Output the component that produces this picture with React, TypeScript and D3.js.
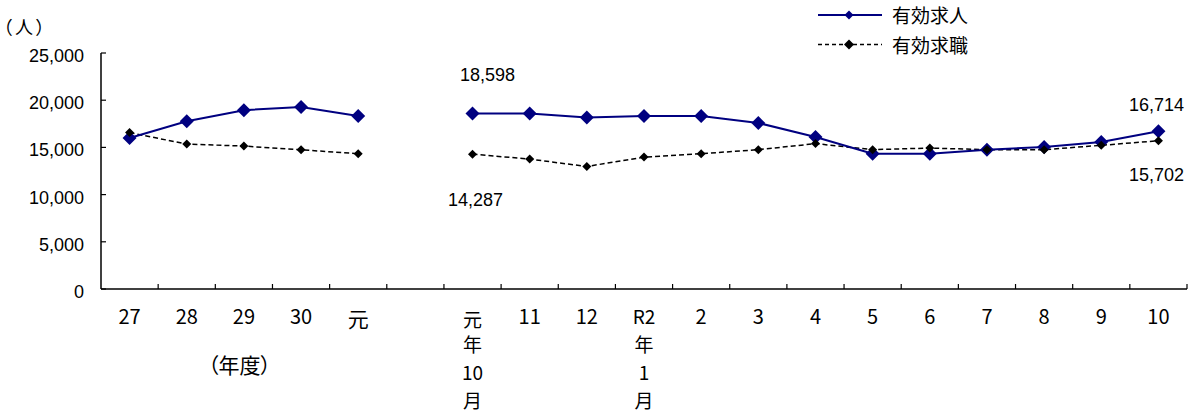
import * as d3 from "d3";
import React from "react";

// categories: fiscal years, a gap, then months (stacked labels use "\n")
const categories = [
  "27", "28", "29", "30", "元", "",
  "元\n年\n10\n月", "11", "12", "R2\n年\n1\n月", "2", "3", "4", "5", "6", "7", "8", "9", "10",
];

const openings = [
  16000, 17770, 18940, 19290, 18330, null,
  18598, 18590, 18160, 18330, 18330, 17590, 16100, 14330, 14330, 14760, 15030, 15570, 16714,
];

const seekers = [
  16570, 15350, 15140, 14750, 14330, null,
  14287, 13760, 12980, 13970, 14330, 14760, 15400, 14760, 14930, 14760, 14760, 15220, 15702,
];

const yTicks = [0, 5000, 10000, 15000, 20000, 25000];

const legendNames = ["有効求人", "有効求職"];

const width = 1193;
const height = 416;
const margin = { top: 53, right: 6, bottom: 127, left: 101 };

const jp = "'Noto Sans CJK JP', sans-serif";
const num = "'Liberation Sans', Arial, sans-serif";

const isCjk = (s: string) => /[\u3000-\u9fff]/.test(s);

export default function App() {
  const innerWidth = width - margin.left - margin.right;
  const innerHeight = height - margin.top - margin.bottom;

  const xScale = d3
    .scaleBand()
    .domain(categories.map((_, i) => String(i)))
    .range([0, innerWidth])
    .padding(0);
  const xCenter = (i: number) => (xScale(String(i)) as number) + xScale.bandwidth() / 2;

  const yScale = d3.scaleLinear().domain([0, 25000]).range([innerHeight, 0]);

  const line = d3
    .line<number | null>()
    .defined((d) => d != null)
    .x((_, i) => xCenter(i))
    .y((d) => yScale(d as number));

  const diamond = (r: number) => `M0,${-r}L${r},0L0,${r}L${-r},0Z`;
  const fmt = d3.format(",");

  const last = categories.length - 1;

  // hand-placed data labels (offsets from the point, like the original)
  const labels = [
    { i: 6, v: openings[6] as number, dx: 15, dy: -32 },
    { i: 6, v: seekers[6] as number, dx: 3, dy: 52 },
    { i: last, v: openings[last] as number, dx: -2, dy: -20 },
    { i: last, v: seekers[last] as number, dx: -2, dy: 40 },
  ];

  return (
    <svg
      width={width}
      height={height}
      style={{ position: "absolute", left: 0, top: 0, background: "#fff" }}
    >
      <g transform={`translate(${margin.left},${margin.top})`}>
        {/* y axis */}
        <line x1={0} x2={0} y1={0} y2={innerHeight} stroke="#000" strokeWidth={1.5} />
        {yTicks.map((t) => (
          <g key={t} transform={`translate(0,${yScale(t)})`}>
            <line x1={0} x2={5} stroke="#000" strokeWidth={1.2} />
            <text
              x={-17}
              dy={9}
              textAnchor="end"
              fontFamily={num}
              fontSize={18}
              fill="#000"
            >
              {fmt(t)}
            </text>
          </g>
        ))}

        {/* x axis */}
        <line x1={0} x2={innerWidth} y1={innerHeight} y2={innerHeight} stroke="#000" strokeWidth={1.5} />
        {categories.map((_, i) => (
          <line
            key={"t" + i}
            x1={(xScale(String(i)) as number) + xScale.bandwidth()}
            x2={(xScale(String(i)) as number) + xScale.bandwidth()}
            y1={innerHeight}
            y2={innerHeight - 5}
            stroke="#000"
            strokeWidth={1.2}
          />
        ))}
        {categories.map((c, i) => {
          const parts = c.split("\n");
          const stacked = parts.length > 1;
          return parts.map((s, k) => {
            const lift = k === 0 && isCjk(s) ? 3 : 0;
            return (
              <text
                key={"l" + i + "-" + k}
                x={xCenter(i)}
                y={innerHeight + 35 + k * 28 + lift}
                textAnchor="middle"
                fontFamily={jp}
                fontSize={stacked ? 19 : isCjk(s) ? 21 : 20}
                fill="#000"
              >
                {s}
              </text>
            );
          });
        })}

        {/* series */}
        <path d={line(seekers) ?? ""} fill="none" stroke="#000" strokeWidth={1.5} strokeDasharray="5,3" />
        <path d={line(openings) ?? ""} fill="none" stroke="#000080" strokeWidth={2} />
        {openings.map((v, i) =>
          v == null ? null : (
            <path key={"o" + i} d={diamond(7)} transform={`translate(${xCenter(i)},${yScale(v)})`} fill="#000080" />
          )
        )}
        {seekers.map((v, i) =>
          v == null ? null : (
            <path key={"s" + i} d={diamond(4.5)} transform={`translate(${xCenter(i)},${yScale(v)})`} fill="#000" />
          )
        )}

        {labels.map((l, k) => (
          <text
            key={"d" + k}
            x={xCenter(l.i) + l.dx}
            y={yScale(l.v) + l.dy}
            textAnchor="middle"
            fontFamily={num}
            fontSize={18}
            fill="#000"
          >
            {fmt(l.v)}
          </text>
        ))}
      </g>

      {/* unit labels */}
      <text
        x={3}
        y={34}
        fontFamily={jp}
        fontSize={18}
        letterSpacing={3}
        fill="#000"
        style={{ fontFeatureSettings: '"palt"' }}
      >
        （人）
      </text>
      <text
        x={208}
        y={373}
        fontFamily={jp}
        fontSize={21}
        fill="#000"
        style={{ fontFeatureSettings: '"palt"' }}
      >
        （年度）
      </text>

      {/* legend */}
      {legendNames.map((name, k) => (
        <g key={name} transform={`translate(818,${15 + k * 29.5})`}>
          <line
            x1={0}
            x2={64}
            stroke={k === 0 ? "#000080" : "#000"}
            strokeWidth={k === 0 ? 2 : 1.5}
            strokeDasharray={k === 0 ? undefined : "4,3"}
          />
          <path d={diamond(k === 0 ? 4.5 : 5)} transform="translate(31,0)" fill={k === 0 ? "#000080" : "#000"} />
          <text x={74} y={8} fontFamily={jp} fontSize={19} fill="#000">
            {name}
          </text>
        </g>
      ))}
    </svg>
  );
}
